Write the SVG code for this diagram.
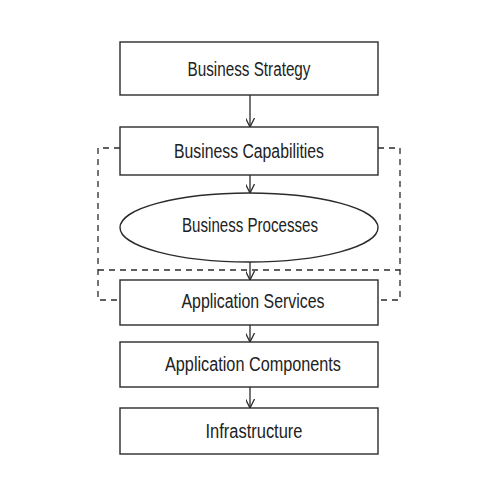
<svg xmlns="http://www.w3.org/2000/svg" width="500" height="500" viewBox="0 0 500 500">
<defs>
<style>
.box{fill:#fff;stroke:#2b2b2b;stroke-width:1.4}
.lbl{font-family:"Liberation Sans",Arial,sans-serif;font-size:19.5px;fill:#222;text-anchor:middle}
.conn{stroke:#2b2b2b;stroke-width:1.3;fill:none}
.dash{stroke:#2b2b2b;stroke-width:1.3;fill:none;stroke-dasharray:6,5}
</style>
<marker id="arr" viewBox="0 0 10 10" refX="10" refY="5" markerWidth="9" markerHeight="9" orient="auto" markerUnits="userSpaceOnUse">
<path d="M0,0 L10,5 L0,10" fill="none" stroke="#2b2b2b" stroke-width="1.4"/>
</marker>
</defs>
<rect width="500" height="500" fill="#fff"/>
<g id="connectors">
<path class="dash" d="M120,148 H98 V300 H120"/>
<path class="dash" d="M378,148 H400 V300 H378"/>
<path class="dash" d="M98,270 H400"/>
<line class="conn" x1="250" y1="95" x2="250" y2="127" marker-end="url(#arr)"/>
<line class="conn" x1="250" y1="175" x2="250" y2="193" marker-end="url(#arr)"/>
<line class="conn" x1="250" y1="262" x2="250" y2="280" marker-end="url(#arr)"/>
<line class="conn" x1="250" y1="325" x2="250" y2="342" marker-end="url(#arr)"/>
<line class="conn" x1="250" y1="387" x2="250" y2="408" marker-end="url(#arr)"/>
</g>
<g id="business-strategy">
<rect class="box" x="120" y="42" width="258" height="53"/>
<text class="lbl" x="249" y="76" textLength="123" lengthAdjust="spacingAndGlyphs">Business Strategy</text>
</g>
<g id="business-capabilities">
<rect class="box" x="120" y="127" width="258" height="48"/>
<text class="lbl" x="249" y="158" textLength="150" lengthAdjust="spacingAndGlyphs">Business Capabilities</text>
</g>
<g id="business-processes">
<ellipse class="box" cx="249" cy="227.5" rx="129" ry="34.5"/>
<text class="lbl" x="250" y="232" textLength="136" lengthAdjust="spacingAndGlyphs">Business Processes</text>
</g>
<g id="application-services">
<rect class="box" x="120" y="280" width="258" height="45"/>
<text class="lbl" x="253" y="308" textLength="143" lengthAdjust="spacingAndGlyphs">Application Services</text>
</g>
<g id="application-components">
<rect class="box" x="120" y="342" width="258" height="45"/>
<text class="lbl" x="253" y="371" textLength="176" lengthAdjust="spacingAndGlyphs">Application Components</text>
</g>
<g id="infrastructure">
<rect class="box" x="120" y="408" width="258" height="46"/>
<text class="lbl" x="254" y="438" textLength="97" lengthAdjust="spacingAndGlyphs">Infrastructure</text>
</g>
</svg>
